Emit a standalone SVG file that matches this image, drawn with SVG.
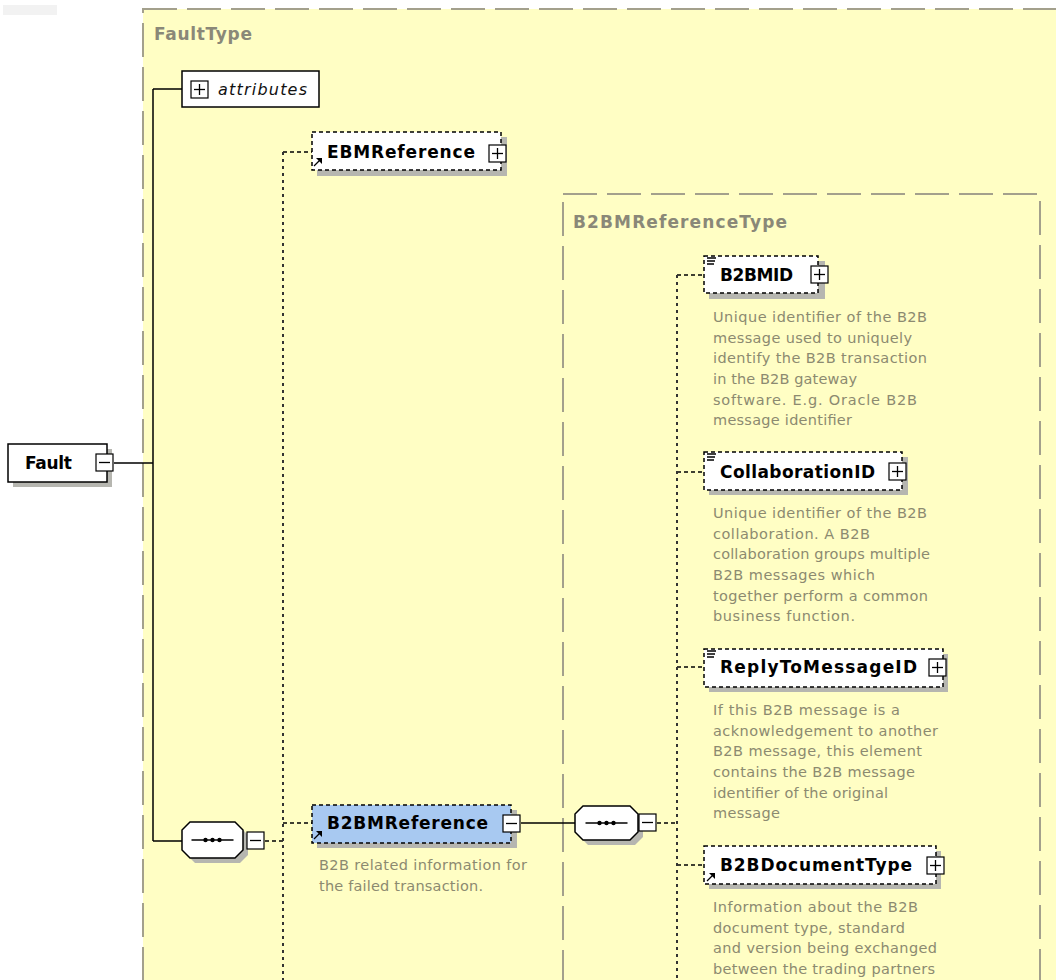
<svg xmlns="http://www.w3.org/2000/svg" xmlns:xlink="http://www.w3.org/1999/xlink" width="1056" height="980" viewBox="0 0 1056 980">
<style>
.bg{fill:#fffec4;stroke:#a3a08c;stroke-width:2;stroke-dasharray:34 10}
.box{fill:#fff;stroke:#000;stroke-width:1.5}
.opt{stroke-dasharray:4 3}
.blue{fill:#a8c9f1}
.shadow{fill:#b6b6b0}
.name{font-family:"DejaVu Sans",sans-serif;font-weight:bold;font-size:17px;fill:#000}
.ital{font-family:"DejaVu Sans",sans-serif;font-style:italic;font-size:16px;fill:#111}
.type{font-family:"DejaVu Sans",sans-serif;font-weight:bold;font-size:17px;fill:#8a8878}
.desc{font-family:"DejaVu Sans",sans-serif;font-size:14.5px;fill:#8c8a70}
.pm{fill:#fff;stroke:#000;stroke-width:1.2}
.pml{stroke:#000;stroke-width:1.3}
.solid{stroke:#000;stroke-width:1.5;fill:none}
.dash{stroke:#000;stroke-width:1.5;stroke-dasharray:4 3;fill:none}
.dot{stroke:#333;stroke-width:2;stroke-dasharray:3 4;fill:none}
.oct{fill:#fff;stroke:#000;stroke-width:1.5}
.icon{stroke:#000;stroke-width:1.3;fill:none}
</style>
<defs>
<g id="plus"><rect class="pm" x="0" y="0" width="17" height="17"/><line class="pml" x1="3" y1="8.5" x2="14" y2="8.5"/><line class="pml" x1="8.5" y1="3" x2="8.5" y2="14"/></g>
<g id="minus"><rect class="pm" x="0" y="0" width="17" height="17"/><line class="pml" x1="3" y1="8.5" x2="14" y2="8.5"/></g>
<g id="refarrow"><path class="icon" d="M1 9 L8 2"/><path d="M3 1 L9 1 L9 7 Z" fill="#000"/></g>
<g id="simple"><path class="icon" d="M0 1 H9 M0 4 H8 M0 7 H7"/></g>
<g id="seq"><line class="pml" x1="-21" y1="0" x2="21" y2="0"/><circle cx="-7" cy="0" r="2.2"/><circle cx="0" cy="0" r="2.2"/><circle cx="7" cy="0" r="2.2"/></g>
</defs>

<rect x="3" y="5" width="54" height="10" fill="#f2f2f2"/>

<g id="FaultType">
<rect class="bg" x="143" y="9" width="960" height="1000"/>
<text class="type" x="154" y="40" textLength="98">FaultType</text>
</g>

<g id="B2BMReferenceType">
<rect class="bg" x="563" y="194" width="477" height="820"/>
<text class="type" x="573" y="228" textLength="214">B2BMReferenceType</text>
</g>

<g id="connectors">
<path class="solid" d="M114 463 H153 M153 89 V841 M153 89 H182 M153 841 H182"/>
<path class="dash" d="M265 841 H283 M283 152 H312 M283 823 H312"/>
<path class="dot" d="M283 152 V980"/>
<path class="solid" d="M521 823 H575"/>
<path class="dash" d="M657 823 H677 M677 275 H704 M677 472 H704 M677 667 H704 M677 865 H704"/>
<path class="dot" d="M677 275 V980"/>
</g>

<g id="Fault">
<rect class="shadow" x="13" y="449" width="99" height="38"/>
<rect class="box" x="8" y="444" width="99" height="38"/>
<text class="name" x="25" y="469" textLength="47">Fault</text>
<use xlink:href="#minus" x="96" y="454"/>
</g>

<g id="attributes">
<rect class="box" x="182" y="71" width="137" height="36" stroke-width="2"/>
<use xlink:href="#plus" x="191" y="81"/>
<text class="ital" x="218" y="95" textLength="89">attributes</text>
</g>

<g id="sequence1">
<polygon class="shadow" points="195,827 240,827 248,835 248,855 240,863 195,863 187,855 187,835"/>
<polygon class="oct" points="190,822 235,822 243,830 243,850 235,858 190,858 182,850 182,830"/>
<use xlink:href="#seq" x="212.5" y="840"/>
<use xlink:href="#minus" x="247" y="832"/>
</g>

<g id="EBMReference">
<rect class="shadow" x="317" y="137" width="190" height="39"/>
<rect class="box opt" x="312" y="132" width="189" height="38"/>
<text class="name" x="327" y="158" textLength="148">EBMReference</text>
<use xlink:href="#plus" x="489" y="145"/>
<use xlink:href="#refarrow" x="313" y="157"/>
</g>

<g id="B2BMReference">
<rect class="shadow" x="317" y="810" width="200" height="38"/>
<rect class="box opt blue" x="312" y="805" width="199" height="38"/>
<text class="name" x="327" y="829" textLength="161">B2BMReference</text>
<use xlink:href="#minus" x="503" y="815"/>
<use xlink:href="#refarrow" x="313" y="830"/>
<text class="desc" x="319" y="870" textLength="208">B2B related information for</text>
<text class="desc" x="319" y="891" textLength="164">the failed transaction.</text>
</g>

<g id="sequence2">
<polygon class="shadow" points="588,811 635,811 643,819 643,837 635,845 588,845 580,837 580,819"/>
<polygon class="oct" points="583,806 630,806 638,814 638,832 630,840 583,840 575,832 575,814"/>
<use xlink:href="#seq" x="606.5" y="823"/>
<use xlink:href="#minus" x="639" y="814"/>
</g>

<g id="B2BMID">
<rect class="shadow" x="709" y="261" width="116" height="38"/>
<rect class="box opt" x="704" y="256" width="114" height="37"/>
<use xlink:href="#simple" x="707" y="257"/>
<text class="name" x="720" y="281" textLength="73">B2BMID</text>
<use xlink:href="#plus" x="811" y="266"/>
<text class="desc" x="713" y="322" textLength="214">Unique identifier of the B2B</text>
<text class="desc" x="713" y="343" textLength="199">message used to uniquely</text>
<text class="desc" x="713" y="363" textLength="214">identify the B2B transaction</text>
<text class="desc" x="713" y="384" textLength="144">in the B2B gateway</text>
<text class="desc" x="713" y="405" textLength="204">software. E.g. Oracle B2B</text>
<text class="desc" x="713" y="425" textLength="139">message identifier</text>
</g>

<g id="CollaborationID">
<rect class="shadow" x="709" y="457" width="199" height="38"/>
<rect class="box opt" x="704" y="452" width="198" height="38"/>
<use xlink:href="#simple" x="707" y="453"/>
<text class="name" x="720" y="478" textLength="155">CollaborationID</text>
<use xlink:href="#plus" x="889" y="463"/>
<text class="desc" x="713" y="518" textLength="214">Unique identifier of the B2B</text>
<text class="desc" x="713" y="539" textLength="157">collaboration. A B2B</text>
<text class="desc" x="713" y="559" textLength="217">collaboration groups multiple</text>
<text class="desc" x="713" y="580" textLength="162">B2B messages which</text>
<text class="desc" x="713" y="601" textLength="215">together perform a common</text>
<text class="desc" x="713" y="621" textLength="142">business function.</text>
</g>

<g id="ReplyToMessageID">
<rect class="shadow" x="709" y="654" width="239" height="38"/>
<rect class="box opt" x="704" y="649" width="239" height="38"/>
<use xlink:href="#simple" x="707" y="650"/>
<text class="name" x="720" y="673" textLength="197">ReplyToMessageID</text>
<use xlink:href="#plus" x="929" y="659"/>
<text class="desc" x="713" y="715" textLength="187">If this B2B message is a</text>
<text class="desc" x="713" y="736" textLength="225">acknowledgement to another</text>
<text class="desc" x="713" y="756" textLength="209">B2B message, this element</text>
<text class="desc" x="713" y="777" textLength="202">contains the B2B message</text>
<text class="desc" x="713" y="798" textLength="175">identifier of the original</text>
<text class="desc" x="713" y="818" textLength="67">message</text>
</g>

<g id="B2BDocumentType">
<rect class="shadow" x="709" y="851" width="232" height="38"/>
<rect class="box opt" x="704" y="846" width="232" height="38"/>
<text class="name" x="720" y="871" textLength="192">B2BDocumentType</text>
<use xlink:href="#plus" x="927" y="857"/>
<use xlink:href="#refarrow" x="706" y="872"/>
<text class="desc" x="713" y="912" textLength="205">Information about the B2B</text>
<text class="desc" x="713" y="933" textLength="192">document type, standard</text>
<text class="desc" x="713" y="953" textLength="224">and version being exchanged</text>
<text class="desc" x="713" y="974" textLength="222">between the trading partners</text>
</g>
</svg>
